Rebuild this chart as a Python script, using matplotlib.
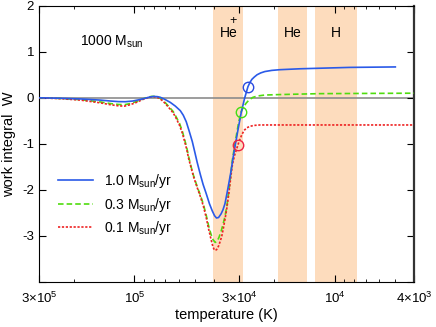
import numpy as np
import matplotlib.pyplot as plt
from matplotlib.ticker import FixedLocator, FixedFormatter, LogLocator, NullFormatter

plt.rcParams['font.family'] = ['Liberation Sans', 'DejaVu Sans']
plt.rcParams['mathtext.fontset'] = 'custom'
plt.rcParams['mathtext.rm'] = 'Liberation Sans'
plt.rcParams['mathtext.it'] = 'Liberation Sans:italic'
plt.rcParams['lines.scale_dashes'] = False

# --- data ---
T_blue = [3.0e5, 2.33e5, 1.86e5, 1.48e5, 1.32e5, 1.20e5, 1.11e5, 1.02e5, 9.55e4, 8.92e4,
          8.42e4, 8.04e4, 7.68e4, 7.42e4, 7.01e4, 6.62e4, 6.25e4, 5.90e4, 5.70e4, 5.51e4,
          5.33e4, 5.14e4, 5.00e4, 4.86e4, 4.69e4, 4.54e4, 4.38e4, 4.22e4, 4.09e4, 3.98e4,
          3.89e4, 3.80e4, 3.69e4, 3.61e4, 3.53e4, 3.45e4, 3.40e4, 3.30e4, 3.22e4, 3.14e4,
          3.04e4, 2.93e4, 2.82e4, 2.76e4, 2.71e4, 2.65e4, 2.59e4, 2.52e4, 2.44e4, 2.34e4,
          2.23e4, 2.06e4, 1.88e4, 1.49e4, 8.42e3, 4.97e3]
W_blue = [0.0, -0.01, -0.025, -0.05, -0.07, -0.083, -0.085, -0.07, -0.045, -0.015,
          0.015, 0.03, 0.025, 0.01, -0.04, -0.10, -0.18, -0.28, -0.38, -0.52,
          -0.72, -0.95, -1.17, -1.40, -1.66, -1.88, -2.08, -2.30, -2.45, -2.56,
          -2.61, -2.60, -2.52, -2.43, -2.30, -2.08, -1.93, -1.62, -1.32, -1.04,
          -0.70, -0.33, -0.02, 0.12, 0.24, 0.33, 0.40, 0.45, 0.50, 0.54,
          0.57, 0.595, 0.61, 0.63, 0.66, 0.67]

T_green = [3.0e5, 2.33e5, 1.86e5, 1.48e5, 1.32e5, 1.20e5, 1.12e5, 1.05e5, 9.77e4, 9.13e4,
           8.62e4, 8.23e4, 7.86e4, 7.51e4, 7.17e4, 6.77e4, 6.40e4, 6.18e4, 5.95e4, 5.77e4,
           5.62e4, 5.48e4, 5.36e4, 5.21e4, 5.06e4, 4.84e4, 4.67e4, 4.52e4, 4.38e4, 4.26e4,
           4.14e4, 4.05e4, 3.95e4, 3.87e4, 3.78e4, 3.69e4, 3.61e4, 3.53e4, 3.45e4, 3.37e4,
           3.30e4, 3.24e4, 3.16e4, 3.09e4, 3.02e4, 2.93e4, 2.85e4, 2.77e4, 2.68e4, 2.56e4,
           2.42e4, 2.23e4, 1.88e4, 1.19e4, 4.0e3]
W_green = [0.0, -0.015, -0.04, -0.09, -0.125, -0.145, -0.15, -0.125, -0.08, -0.03,
           0.01, 0.03, 0.03, 0.0, -0.06, -0.18, -0.30, -0.42, -0.56, -0.72,
           -0.90, -1.08, -1.28, -1.50, -1.70, -1.95, -2.13, -2.32, -2.55, -2.78,
           -2.97, -3.08, -3.14, -3.12, -3.03, -2.90, -2.75, -2.58, -2.34, -2.00,
           -1.65, -1.35, -1.05, -0.80, -0.55, -0.30, -0.20, -0.12, -0.05, 0.01,
           0.04, 0.06, 0.07, 0.09, 0.10]

T_red = [3.0e5, 2.33e5, 1.86e5, 1.48e5, 1.32e5, 1.20e5, 1.12e5, 1.05e5, 9.77e4, 9.13e4,
         8.62e4, 8.23e4, 7.86e4, 7.51e4, 7.17e4, 6.77e4, 6.40e4, 6.18e4, 5.95e4, 5.77e4,
         5.62e4, 5.48e4, 5.36e4, 5.21e4, 5.06e4, 4.84e4, 4.67e4, 4.52e4, 4.38e4, 4.26e4,
         4.14e4, 4.05e4, 3.98e4, 3.89e4, 3.80e4, 3.73e4, 3.66e4, 3.59e4, 3.51e4, 3.45e4,
         3.37e4, 3.30e4, 3.24e4, 3.16e4, 3.09e4, 3.04e4, 2.97e4, 2.90e4, 2.82e4, 2.74e4,
         2.65e4, 2.53e4, 2.36e4, 4.0e3]
W_red = [0.0, -0.02, -0.05, -0.11, -0.15, -0.175, -0.18, -0.15, -0.10, -0.04,
         0.0, 0.02, 0.02, -0.01, -0.08, -0.20, -0.33, -0.45, -0.60, -0.76,
         -0.94, -1.12, -1.32, -1.52, -1.72, -1.97, -2.16, -2.36, -2.60, -2.85,
         -3.08, -3.24, -3.31, -3.30, -3.22, -3.12, -3.00, -2.82, -2.58, -2.38,
         -2.05, -1.72, -1.45, -1.25, -1.12, -1.02, -0.90, -0.79, -0.70, -0.65,
         -0.62, -0.60, -0.59, -0.59]

# open circles on each curve
T_mark = [2.71e4, 2.93e4, 3.04e4]
W_mark = [0.24, -0.30, -1.02]

# ionisation zones
bands = [(4.06e4, 2.86e4), (1.92e4, 1.37e4), (1.25e4, 7.71e3)]
band_labels = ['He', 'He', 'H']
band_label_T = [3.38e4, 1.61e4, 9.8e3]

labels = ['1.0 M$_{\\rm sun}$/yr', '0.3 M$_{\\rm sun}$/yr', '0.1 M$_{\\rm sun}$/yr']
colors = ['#2a5ae8', '#4fdc0e', '#ee2222']
mark_colors = ['#2a4ae0', '#44dd11', '#ee2244']

xtick_vals = [3e5, 1e5, 3e4, 1e4, 4e3]
xtick_labels = ['$3{\\times}10^5$', '$10^5$', '$3{\\times}10^4$', '$10^4$', '$4{\\times}10^3$']
ytick_vals = [-4, -3, -2, -1, 0, 1, 2]
ytick_labels = ['', '-3', '-2', '-1', '0', '1', '2']

fig = plt.figure(figsize=(4.36, 3.27), dpi=100)
ax = fig.add_axes([0.0894, 0.1376, 0.8606, 0.845])
ax.set_xscale('log')
ax.set_xlim(3e5, 4e3)
ax.set_ylim(-4, 2)

for lo, hi in bands:
    ax.axvspan(lo, hi, color='#fddcbd', lw=0, zorder=0)
ax.axhline(0, color='#8c8c8c', lw=1.2, zorder=1)

ax.plot(T_blue, W_blue, color=colors[0], lw=1.2, label=labels[0], zorder=4)
ax.plot(T_green, W_green, color=colors[1], lw=1.2, dashes=(4, 2.2), label=labels[1], zorder=3)
ax.plot(T_red, W_red, color=colors[2], lw=1.2, dashes=(1.6, 1.2), label=labels[2], zorder=3)
for t, w, c in zip(T_mark, W_mark, mark_colors):
    ax.plot([t], [w], 'o', mfc='none', mec=c, ms=7.5, mew=1.0, zorder=5)

for (lab, t) in zip(band_labels, band_label_T):
    ax.text(t, 1.4, lab, ha='center', va='center', fontsize=10)
ax.text(3.22e4, 1.66, '+', ha='center', va='center', fontsize=9)
ax.text(1.88e5, 1.22, '1000 M$_{\\rm sun}$', ha='left', va='center', fontsize=10)

ax.xaxis.set_major_locator(FixedLocator(xtick_vals))
ax.xaxis.set_major_formatter(FixedFormatter(xtick_labels))
ax.xaxis.set_minor_locator(LogLocator(base=10, subs=np.arange(2, 10)))
ax.xaxis.set_minor_formatter(NullFormatter())
ax.set_yticks(ytick_vals)
ax.set_yticklabels(ytick_labels)
ax.tick_params(which='both', direction='in', top=True, right=True, labelsize=9.5)
ax.tick_params(which='major', length=5, width=0.8)
ax.tick_params(which='minor', length=2.5, width=0.6)
ax.tick_params(axis='x', pad=6)
ax.spines['right'].set_linewidth(1.6)
ax.spines['right'].set_color('#333333')

ax.set_xlabel('temperature (K)', fontsize=10.5, labelpad=2)
ax.set_ylabel('work integral  W', fontsize=10.5)
ax.yaxis.set_label_coords(-0.062, 0.5)

ax.legend(loc='upper left', bbox_to_anchor=(58 / 436, 1 - 172 / 327), bbox_transform=fig.transFigure,
          frameon=False, fontsize=10, handlelength=2.5, handletextpad=0.8, labelspacing=0.4,
          borderpad=0, borderaxespad=0)

fig.savefig('out.png', dpi=100)
